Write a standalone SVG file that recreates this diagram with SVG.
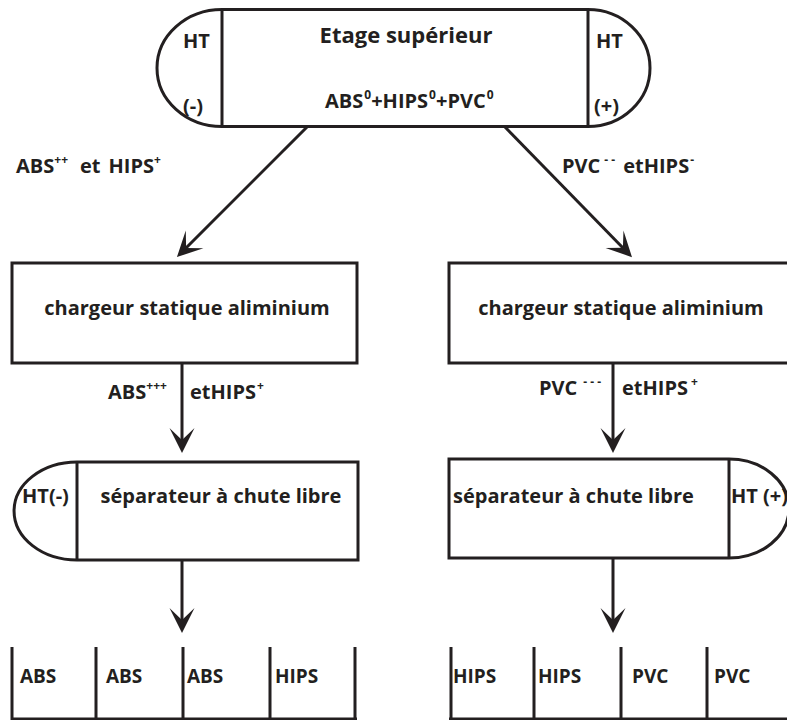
<svg xmlns="http://www.w3.org/2000/svg" width="787" height="720" viewBox="0 0 787 720">
<style>
  .s { fill: none; stroke: #231f20; stroke-width: 3; }
  .f { fill: #fff; stroke: #231f20; stroke-width: 3; }
  text { font-family: "Open Sans", "Liberation Sans", sans-serif; font-weight: bold; fill: #231f20; font-size: 20px; }
  .sup { font-size: 12px; }
  .title { font-size: 22px; }
  .bin { font-size: 19px; }
  .c { stroke: #231f20; stroke-width: 3; fill: none; marker-end: url(#ah); }
</style>
<defs>
  <marker id="ah" viewBox="-27 -14 28 28" refX="-10" refY="0" markerWidth="28" markerHeight="28" markerUnits="userSpaceOnUse" orient="auto">
    <path d="M0,0 L-25,-12.5 L-13,0 L-25,12.5 Z" fill="#231f20"/>
  </marker>
</defs>

<g id="etage">
  <path class="f" d="M222,9.5 H588 A62,58.5 0 0 1 588,126.5 H222 A65,58.5 0 0 1 222,9.5 Z"/>
  <line class="s" x1="222" y1="9.5" x2="222" y2="126.5"/>
  <line class="s" x1="588" y1="9.5" x2="588" y2="126.5"/>
  <text x="183" y="48">HT</text>
  <text x="183" y="113">(-)</text>
  <text x="596" y="48">HT</text>
  <text x="594" y="113">(+)</text>
  <text class="title" x="406" y="43" text-anchor="middle">Etage supérieur</text>
  <text x="325" y="108">ABS<tspan class="sup" dx="1" dy="-9">0</tspan><tspan dy="9">+HIPS</tspan><tspan class="sup" dx="1" dy="-9">0</tspan><tspan dy="9">+PVC</tspan><tspan class="sup" dx="1" dy="-9">0</tspan></text>
</g>

<g id="chargeur-gauche">
  <rect class="f" x="12" y="263" width="345" height="100"/>
  <text x="187" y="315" text-anchor="middle">chargeur statique aliminium</text>
</g>

<g id="chargeur-droite">
  <rect class="f" x="449" y="263" width="345" height="100"/>
  <text x="621" y="315" text-anchor="middle">chargeur statique aliminium</text>
</g>

<g id="separateur-gauche">
  <path class="f" d="M77,462 H358 V560 H77 A63,49 0 0 1 77,462 Z"/>
  <line class="s" x1="77" y1="462" x2="77" y2="560"/>
  <text x="22" y="503">HT(-)</text>
  <text x="221" y="503" text-anchor="middle">séparateur à chute libre</text>
</g>

<g id="separateur-droite">
  <path class="f" d="M449,459 H729 A60,49.5 0 0 1 729,558 H449 Z"/>
  <line class="s" x1="729" y1="459" x2="729" y2="558"/>
  <text x="731" y="503">HT (+)</text>
  <text x="453" y="503">séparateur à chute libre</text>
</g>

<g id="bacs-gauche">
  <path class="s" d="M12,647 V720 M96,647 V720 M183,647 V720 M270,647 V720 M355,647 V720 M12,719 H357"/>
  <text class="bin" x="20" y="683">ABS</text>
  <text class="bin" x="106" y="683">ABS</text>
  <text class="bin" x="187" y="683">ABS</text>
  <text class="bin" x="275" y="683">HIPS</text>
</g>

<g id="bacs-droite">
  <path class="s" d="M451,647 V720 M534,647 V720 M621,647 V720 M707,647 V720 M449,719 H787"/>
  <text class="bin" x="453" y="683">HIPS</text>
  <text class="bin" x="538" y="683">HIPS</text>
  <text class="bin" x="632" y="683">PVC</text>
  <text class="bin" x="714" y="683">PVC</text>
</g>

<g id="connecteurs">
  <path class="c" d="M307,127 L184,250"/>
  <path class="c" d="M505,127 L625,250"/>
  <path class="c" d="M182,363 V443"/>
  <path class="c" d="M613,363 V443"/>
  <path class="c" d="M182,560 V623"/>
  <path class="c" d="M613,558 V623"/>
</g>

<g id="etiquettes">
  <text x="16" y="173">ABS<tspan class="sup" dy="-9">++</tspan><tspan dx="12" dy="9">et</tspan><tspan dx="8">HIPS</tspan><tspan class="sup" dy="-9">+</tspan></text>
  <text x="562" y="173">PVC<tspan class="sup" dx="4" dy="-9">- -</tspan><tspan dx="8" dy="9">etHIPS</tspan><tspan class="sup" dx="1" dy="-9">-</tspan></text>
  <text x="108" y="399">ABS<tspan class="sup" dy="-9">+++</tspan></text>
  <text x="190" y="399">etHIPS<tspan class="sup" dx="1" dy="-9">+</tspan></text>
  <text x="539" y="395">PVC<tspan class="sup" dx="6" dy="-9">- - -</tspan></text>
  <text x="622" y="395">etHIPS<tspan class="sup" dx="3" dy="-9">+</tspan></text>
</g>
</svg>
